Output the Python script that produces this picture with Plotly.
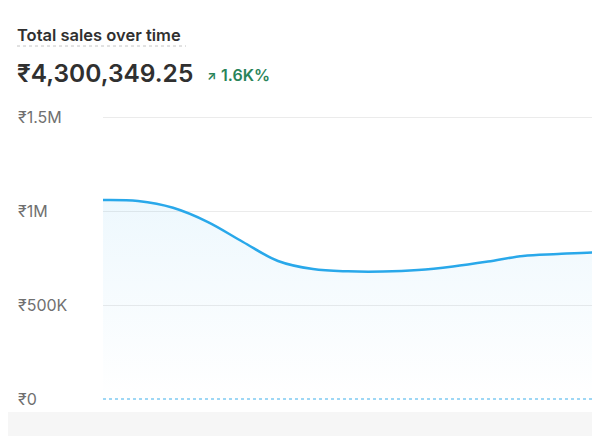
import plotly.graph_objects as go

# ---- data ----
period_index = list(range(16))
total_sales = [1058500, 1053000, 1017000, 941000, 835000, 734000, 691000, 679000,
               678000, 686000, 705000, 731000, 761000, 771000, 780000, 785000]
comparison_sales = [0] * 16
tick_values = [0, 500000, 1000000, 1500000]
tick_labels = ["₹0", "₹500K", "₹1M", "₹1.5M"]
title_text = "Total sales over time"
total_text = "₹4,300,349.25"
change_text = "1.6K%"

# page is rendered with an 8px body margin -> figure coordinates = page - 8
OFF = 8
W, H = 600 - OFF, 436 - OFF
ML, MR, MT = 103 - OFF, 0, 110 - OFF
MB = H - (406 - OFF)
PW, PH = W - ML - MR, H - MT - MB
px_per_unit = 94 / 500000
y_top = 1500000 + ((117 - OFF) - MT) / px_per_unit
y_bot = -((H - MB) - (399 - OFF)) / px_per_unit


def px_x(p):  # page pixel -> paper x
    return (p - OFF - ML) / PW


def px_y(p):  # page pixel -> paper y
    return ((H - MB) - (p - OFF)) / PH


FONT = "Inter, 'Noto Sans', sans-serif"

fig = go.Figure()

fig.add_trace(go.Scatter(
    x=period_index, y=comparison_sales, mode="lines",
    line=dict(color="rgba(41,166,234,0.6)", width=1.5, dash="dot"),
    hoverinfo="skip", showlegend=False,
))

fig.add_trace(go.Scatter(
    x=period_index, y=total_sales, mode="lines",
    line=dict(color="#29A8EA", width=2.5, shape="spline", smoothing=1.0),
    fill="tozeroy",
    fillgradient=dict(
        type="vertical",
        colorscale=[[0, "rgba(41,166,234,0.0)"], [1, "rgba(41,166,234,0.08)"]],
        start=0, stop=1060000,
    ),
    hoverinfo="skip", showlegend=False,
))

shapes = [
    dict(type="rect", xref="paper", yref="paper",
         x0=px_x(0), x1=px_x(620), y0=px_y(444), y1=px_y(412),
         fillcolor="#f6f6f6", line=dict(width=0), layer="below"),
    dict(type="line", xref="paper", yref="paper",
         x0=px_x(17), x1=px_x(186), y0=px_y(46), y1=px_y(46),
         line=dict(color="#c4c4c4", width=1, dash="dot")),
]

annotations = []
for v, lab in zip(tick_values, tick_labels):
    annotations.append(dict(
        text=lab, xref="paper", yref="y", x=px_x(16), y=v,
        xanchor="left", yanchor="middle", showarrow=False,
        font=dict(family=FONT, size=16, color="#707070"),
    ))

annotations += [
    dict(text=title_text, xref="paper", yref="paper",
         x=px_x(15), y=px_y(35), xanchor="left", yanchor="middle", showarrow=False,
         font=dict(family=FONT, size=16.5, color="#303030", weight=600)),
    dict(text=total_text, xref="paper", yref="paper",
         x=px_x(15), y=px_y(73), xanchor="left", yanchor="middle", showarrow=False,
         font=dict(family=FONT, size=24.5, color="#303030", weight=600)),
    dict(text="↗", xref="paper", yref="paper",
         x=px_x(205), y=px_y(75), xanchor="left", yanchor="middle", showarrow=False,
         font=dict(family=FONT, size=12, color="#29845a", weight=700)),
    dict(text=change_text, xref="paper", yref="paper",
         x=px_x(219), y=px_y(75), xanchor="left", yanchor="middle", showarrow=False,
         font=dict(family=FONT, size=16, color="#29845a", weight=600)),
]

fig.update_layout(
    width=W, height=H,
    margin=dict(l=ML, r=MR, t=MT, b=MB),
    paper_bgcolor="white", plot_bgcolor="white",
    shapes=shapes, annotations=annotations,
    showlegend=False,
    xaxis=dict(range=[0, PW / 35], showgrid=False, zeroline=False,
               showticklabels=False, showline=False, fixedrange=True),
    yaxis=dict(range=[y_bot, y_top], tickvals=tick_values[1:],
               showticklabels=False, showgrid=True, gridcolor="#ebebeb",
               gridwidth=1, zeroline=False, showline=False, fixedrange=True),
)

fig.write_html("out.html")
